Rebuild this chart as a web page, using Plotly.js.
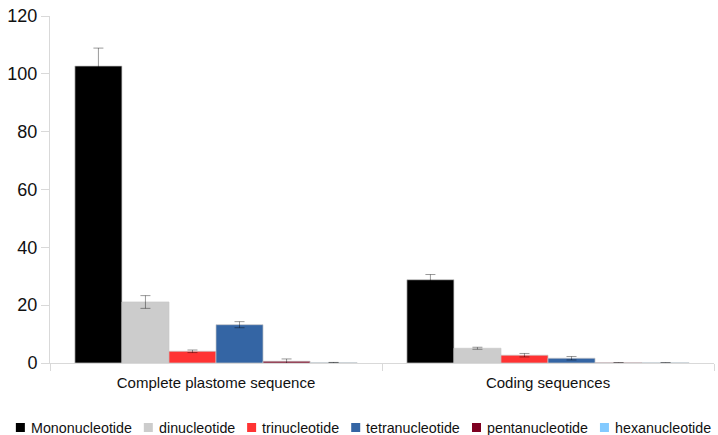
<!DOCTYPE html>
<html>
<head>
<meta charset="utf-8">
<script src="https://cdn.plot.ly/plotly-3.0.1.min.js"></script>
<style>html,body{margin:0;padding:0;background:#fff}#chart{width:718px;height:435px}</style>
</head>
<body>
<div id="chart"></div>
<script>
const categories = ["Complete plastome sequence", "Coding sequences"];
const seriesNames = ["Mononucleotide", "dinucleotide", "trinucleotide", "tetranucleotide", "pentanucleotide", "hexanucleotide"];
const seriesColors = ["#000000", "#cccccc", "#ff3333", "#3465a4", "#7e0021", "#83caff"];
const mononucleotide = [102.7, 28.8];
const dinucleotide = [21.1, 5.1];
const trinucleotide = [4.05, 2.7];
const tetranucleotide = [13.25, 1.65];
const pentanucleotide = [0.6, 0.05];
const hexanucleotide = [0.1, 0.05];
const errMono = [6.2, 1.8];
const errDi = [2.2, 0.35];
const errTri = [0.45, 0.6];
const errTetra = [1.05, 0.6];
const errPenta = [0.8, 0.05];
const errHexa = [0.1, 0.05];

const values = [mononucleotide, dinucleotide, trinucleotide, tetranucleotide, pentanucleotide, hexanucleotide];
const errors = [errMono, errDi, errTri, errTetra, errPenta, errHexa];

const W = 718, H = 435;
const M = {l: 50, r: 4, t: 16, b: 72};
const plotW = W - M.l - M.r, plotH = H - M.t - M.b;
const FONT = "Liberation Sans, Arial, sans-serif";
const legendFontSize = 14.3;

const traces = seriesNames.map((name, i) => ({
  type: "bar",
  name: name,
  x: categories,
  y: values[i],
  marker: {color: seriesColors[i], line: {color: "rgba(200,200,200,0.7)", width: 1}},
  error_y: {type: "data", array: errors[i], visible: true, color: "rgba(0,0,0,0.4)", thickness: 1, width: 5}
}));

// Custom one-row legend (squares + text), laid out with measured text widths
const cv = document.createElement("canvas").getContext("2d");
cv.font = legendFontSize + "px 'Liberation Sans'";
const sq = 9, sqGap = 6, itemGap = 12;
const widths = seriesNames.map(n => cv.measureText(n).width);
const total = widths.reduce((a, w) => a + sq + sqGap + w, 0) + itemGap * (seriesNames.length - 1);
let px = Math.max(4, 363.5 - total / 2);
const legendY = 427.5;
const toPX = p => (p - M.l) / plotW;
const toPY = p => (H - M.b - p) / plotH;
const shapes = [], annotations = [];
seriesNames.forEach((n, i) => {
  shapes.push({type: "rect", xref: "paper", yref: "paper",
    x0: toPX(px), x1: toPX(px + sq), y0: toPY(legendY + sq / 2), y1: toPY(legendY - sq / 2),
    fillcolor: seriesColors[i], line: {width: 0}});
  annotations.push({xref: "paper", yref: "paper", x: toPX(px + sq + sqGap - 1), y: toPY(legendY),
    xanchor: "left", yanchor: "middle", showarrow: false, text: n,
    font: {size: legendFontSize, family: FONT, color: "#111"}, borderpad: 0});
  px += sq + sqGap + widths[i] + itemGap;
});

const layout = {
  width: W, height: H,
  margin: M,
  paper_bgcolor: "#fff", plot_bgcolor: "#fff",
  font: {family: FONT, color: "#111"},
  barmode: "group",
  bargap: 0.15, bargroupgap: 0,
  showlegend: false,
  shapes: shapes,
  annotations: annotations,
  xaxis: {
    type: "category", showgrid: false, zeroline: false,
    showline: true, linecolor: "#d9d9d9", linewidth: 1,
    ticks: "outside", tickson: "boundaries", ticklen: 7, tickcolor: "#d9d9d9",
    ticklabelstandoff: 6,
    tickfont: {size: 15}
  },
  yaxis: {
    range: [0, 120], dtick: 20, showgrid: false, zeroline: false,
    showline: true, linecolor: "#d9d9d9", linewidth: 1,
    ticks: "outside", ticklen: 8, tickcolor: "#d9d9d9",
    tickfont: {size: 18}
  }
};

Plotly.newPlot("chart", traces, layout, {displayModeBar: false, staticPlot: true});
</script>
</body>
</html>
